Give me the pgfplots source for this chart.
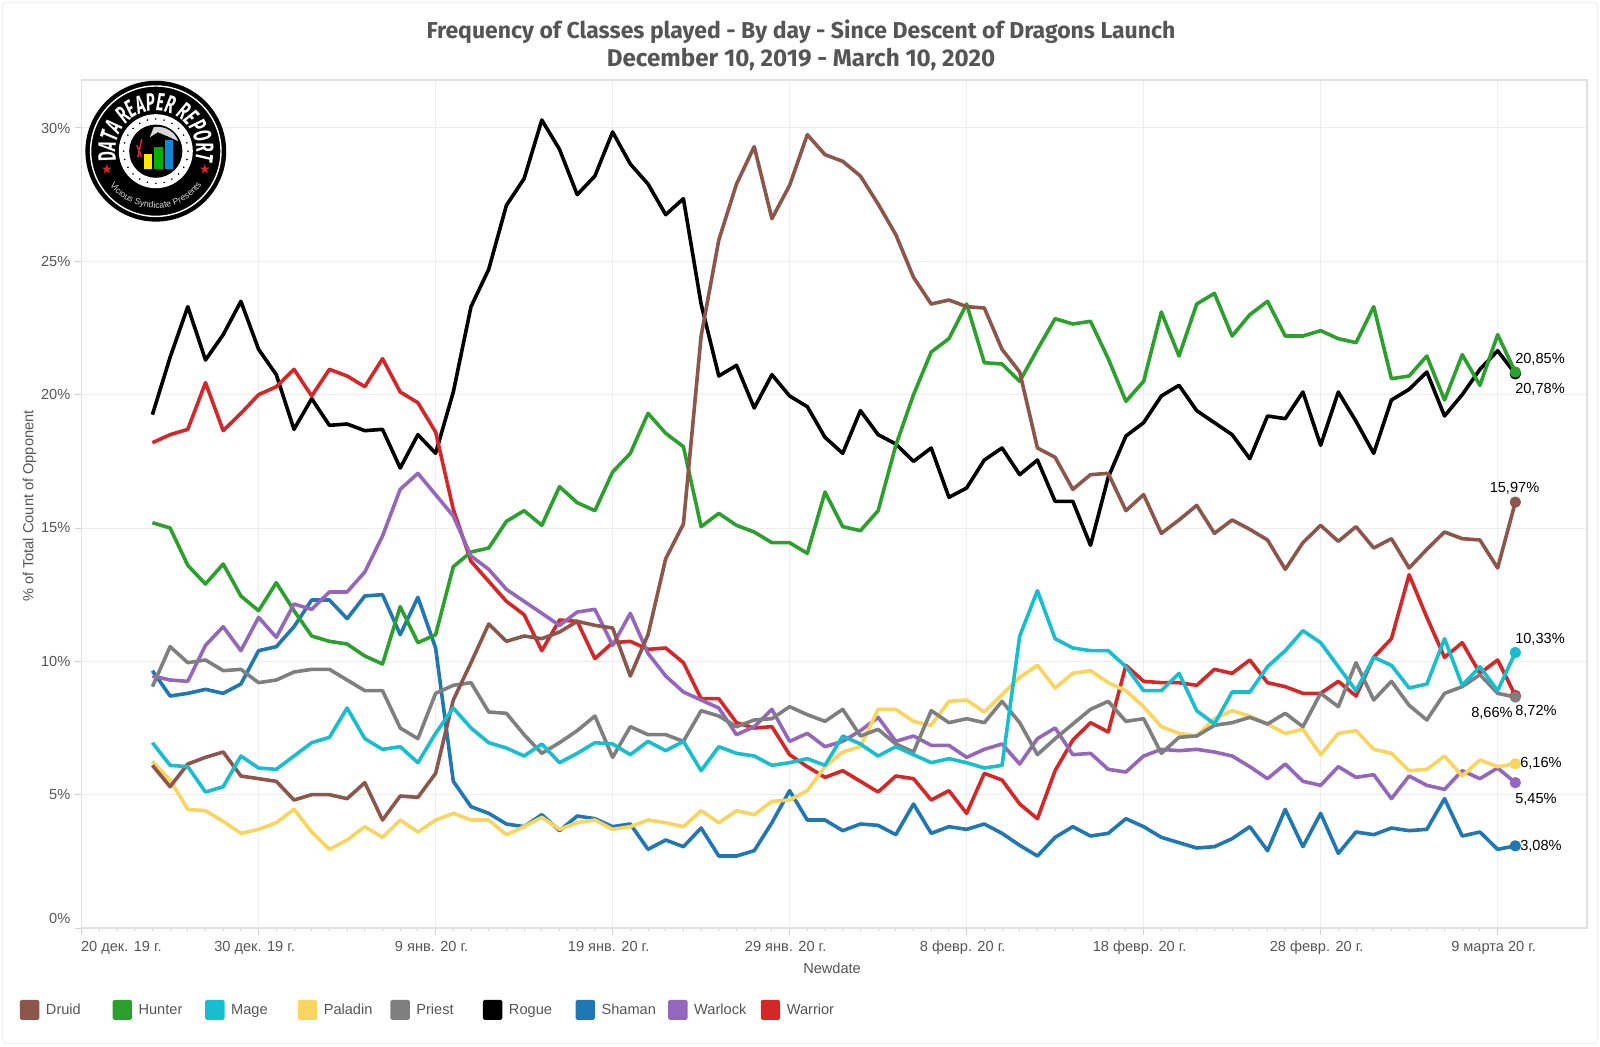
\documentclass[border=0pt]{standalone}
\usepackage{fontspec}
\setmainfont{Liberation Sans}
\newfontfamily\titlefont{Fira Sans}
\newfontfamily\logofont[FakeStretch=0.6]{Fira Sans}
\usepackage{pgfplots}
\pgfplotsset{compat=1.18}
\usetikzlibrary{decorations.text,shapes.geometric}

\definecolor{cDruid}{HTML}{8C564B}
\definecolor{cHunter}{HTML}{2CA02C}
\definecolor{cMage}{HTML}{17BECF}
\definecolor{cPaladin}{HTML}{F9D55F}
\definecolor{cPriest}{HTML}{7F7F7F}
\definecolor{cRogue}{HTML}{000000}
\definecolor{cShaman}{HTML}{1F77B4}
\definecolor{cWarlock}{HTML}{9467BD}
\definecolor{cWarrior}{HTML}{D62728}
\definecolor{txt}{HTML}{555555}

\newcommand{\lab}[1]{\raisebox{-0.4pt}{\makebox[33.3pt][l]{#1}}}

\begin{document}
\begin{tikzpicture}
\fontsize{7.3pt}{9pt}\selectfont

\draw[color=black!6,line width=0.5pt,rounded corners=2pt] (1.2pt,1.2pt) rectangle (798.8pt,521.8pt);

\node[text=txt,font=\titlefont\bfseries\fontsize{11.5pt}{13pt}\selectfont] at (400.5pt,507.2pt)
  {Frequency of Classes played - By day - Since Descent of Dragons Launch};
\node[text=txt,font=\titlefont\bfseries\fontsize{12.1pt}{13pt}\selectfont] at (400.5pt,493.5pt)
  {December 10, 2019 - March 10, 2020};

\begin{axis}[
  at={(40.8pt,59pt)}, anchor=south west,
  scale only axis, width=752.7pt, height=424pt,
  xmin=0, xmax=85.05, ymin=0, ymax=31.8,
  xtick={0,10,...,80},
  xticklabels={\phantom{20 дек. 19 г.}\hspace*{3.4pt}20 дек. 19 г.,30 дек. 19 г.,9 янв. 20 г.,19 янв. 20 г.,29 янв. 20 г.,8 февр. 20 г.,18 февр. 20 г.,28 февр. 20 г.,9 марта 20 г.},
  minor x tick num=9,
  ytick={0,5,...,30},
  yticklabels={\raisebox{9.5pt}{0\%},5\%,10\%,15\%,20\%,25\%,30\%},
  tick align=outside, tick pos=left,
  major tick length=3.5pt, minor tick length=1.5pt,
  tick style={color=black!18,line width=0.5pt},
  grid=major, grid style={color=black!7,line width=0.5pt},
  axis line style={color=black!12,line width=0.7pt},
  x tick label style={text=txt,xshift=-2pt,yshift=-0.5pt},
  y tick label style={text=txt,xshift=0.5pt},
  xlabel={Newdate}, ylabel={\% of Total Count of Opponent},
  every axis x label/.style={at={(axis description cs:0.4985,-0.047)},anchor=center,text=txt},
  every axis y label/.style={at={(axis description cs:-0.0345,0.4975)},rotate=90,anchor=center,text=txt},
  legend columns=9,
  legend style={at={(axis description cs:-0.0412,-0.0965)},anchor=west,draw=none,fill=none,inner sep=0pt,
    text=txt,cells={anchor=west},nodes={inner sep=0pt},
    /tikz/every odd column/.style={column sep=3.3pt}},
  legend image code/.code={\fill[#1,draw=none,rounded corners=0.8pt] (0pt,-5pt) rectangle (9.7pt,5pt);},
  every axis plot/.append style={line width=1.8pt,line join=round,mark=*,mark indices={78},mark size=1.9pt,mark options={solid}},
]
\addlegendimage{color=cDruid}\addlegendentry{\lab{Druid}}
\addlegendimage{color=cHunter}\addlegendentry{\lab{Hunter}}
\addlegendimage{color=cMage}\addlegendentry{\lab{Mage}}
\addlegendimage{color=cPaladin}\addlegendentry{\lab{Paladin}}
\addlegendimage{color=cPriest}\addlegendentry{\lab{Priest}}
\addlegendimage{color=cRogue}\addlegendentry{\lab{Rogue}}
\addlegendimage{color=cShaman}\addlegendentry{\lab{Shaman}}
\addlegendimage{color=cWarlock}\addlegendentry{\lab{Warlock}}
\addlegendimage{color=cWarrior}\addlegendentry{\lab{Warrior}}

% Shaman
\addplot[forget plot,color=cShaman] coordinates {
(4,9.65)(5,8.7)(6,8.8)(7,8.95)(8,8.8)(9,9.15)(10,10.4)(11,10.55)(12,11.3)(13,12.3)
(14,12.3)(15,11.6)(16,12.45)(17,12.5)(18,11.0)(19,12.4)(20,10.5)(21,5.5)(22,4.55)(23,4.3)
(24,3.9)(25,3.8)(26,4.25)(27,3.65)(28,4.2)(29,4.1)(30,3.8)(31,3.9)(32,2.95)(33,3.3)
(34,3.05)(35,3.75)(36,2.7)(37,2.7)(38,2.9)(39,3.95)(40,5.15)(41,4.05)(42,4.05)(43,3.65)
(44,3.9)(45,3.85)(46,3.5)(47,4.65)(48,3.55)(49,3.8)(50,3.7)(51,3.9)(52,3.55)(53,3.1)
(54,2.7)(55,3.4)(56,3.8)(57,3.45)(58,3.55)(59,4.1)(60,3.8)(61,3.4)(62,3.2)(63,3.0)
(64,3.05)(65,3.35)(66,3.8)(67,2.9)(68,4.45)(69,3.05)(70,4.3)(71,2.8)(72,3.6)(73,3.5)
(74,3.75)(75,3.65)(76,3.7)(77,4.85)(78,3.45)(79,3.6)(80,2.95)(81,3.08)};
% Rogue
\addplot[forget plot,color=cRogue] coordinates {
(4,19.25)(5,21.4)(6,23.3)(7,21.3)(8,22.25)(9,23.5)(10,21.7)(11,20.75)(12,18.7)(13,19.85)
(14,18.85)(15,18.9)(16,18.65)(17,18.7)(18,17.25)(19,18.5)(20,17.8)(21,20.1)(22,23.3)(23,24.7)
(24,27.1)(25,28.1)(26,30.3)(27,29.2)(28,27.5)(29,28.2)(30,29.85)(31,28.65)(32,27.9)(33,26.75)
(34,27.35)(35,23.4)(36,20.7)(37,21.1)(38,19.5)(39,20.75)(40,19.95)(41,19.55)(42,18.4)(43,17.8)
(44,19.4)(45,18.5)(46,18.15)(47,17.5)(48,18.0)(49,16.15)(50,16.5)(51,17.55)(52,18.0)(53,17.0)
(54,17.55)(55,16.0)(56,16.0)(57,14.35)(58,16.9)(59,18.45)(60,18.95)(61,19.95)(62,20.35)(63,19.4)
(64,18.95)(65,18.5)(66,17.6)(67,19.2)(68,19.1)(69,20.1)(70,18.1)(71,20.1)(72,19.0)(73,17.8)
(74,19.8)(75,20.2)(76,20.85)(77,19.2)(78,20.0)(79,20.95)(80,21.65)(81,20.78)};
% Warrior
\addplot[forget plot,color=cWarrior] coordinates {
(4,18.2)(5,18.5)(6,18.7)(7,20.45)(8,18.65)(9,19.3)(10,20.0)(11,20.3)(12,20.95)(13,19.95)
(14,20.95)(15,20.7)(16,20.3)(17,21.35)(18,20.1)(19,19.7)(20,18.6)(21,15.7)(22,13.75)(23,13.0)
(24,12.25)(25,11.75)(26,10.4)(27,11.55)(28,11.5)(29,10.1)(30,10.7)(31,10.75)(32,10.45)(33,10.5)
(34,9.95)(35,8.6)(36,8.6)(37,7.7)(38,7.5)(39,7.55)(40,6.5)(41,6.05)(42,5.65)(43,5.9)
(44,5.5)(45,5.1)(46,5.7)(47,5.6)(48,4.8)(49,5.15)(50,4.3)(51,5.8)(52,5.55)(53,4.65)
(54,4.1)(55,5.9)(56,7.05)(57,7.7)(58,7.35)(59,9.85)(60,9.25)(61,9.2)(62,9.2)(63,9.1)
(64,9.7)(65,9.55)(66,10.05)(67,9.2)(68,9.05)(69,8.8)(70,8.8)(71,9.25)(72,8.7)(73,10.15)
(74,10.85)(75,13.25)(76,11.65)(77,10.15)(78,10.7)(79,9.55)(80,10.05)(81,8.72)};
% Hunter
\addplot[forget plot,color=cHunter] coordinates {
(4,15.2)(5,15.0)(6,13.6)(7,12.9)(8,13.65)(9,12.45)(10,11.9)(11,12.95)(12,11.9)(13,10.95)
(14,10.75)(15,10.65)(16,10.2)(17,9.9)(18,12.05)(19,10.7)(20,11.0)(21,13.55)(22,14.1)(23,14.25)
(24,15.25)(25,15.65)(26,15.1)(27,16.55)(28,15.95)(29,15.65)(30,17.1)(31,17.8)(32,19.3)(33,18.55)
(34,18.05)(35,15.05)(36,15.55)(37,15.1)(38,14.85)(39,14.45)(40,14.45)(41,14.05)(42,16.35)(43,15.05)
(44,14.9)(45,15.65)(46,18.1)(47,20.0)(48,21.6)(49,22.1)(50,23.4)(51,21.2)(52,21.15)(53,20.5)
(54,21.7)(55,22.85)(56,22.65)(57,22.75)(58,21.35)(59,19.75)(60,20.5)(61,23.1)(62,21.45)(63,23.4)
(64,23.8)(65,22.2)(66,23.0)(67,23.5)(68,22.2)(69,22.2)(70,22.4)(71,22.1)(72,21.95)(73,23.3)
(74,20.6)(75,20.7)(76,21.45)(77,19.8)(78,21.5)(79,20.35)(80,22.25)(81,20.85)};
% Warlock
\addplot[forget plot,color=cWarlock] coordinates {
(4,9.45)(5,9.3)(6,9.25)(7,10.6)(8,11.3)(9,10.4)(10,11.65)(11,10.9)(12,12.15)(13,11.95)
(14,12.6)(15,12.6)(16,13.35)(17,14.7)(18,16.45)(19,17.05)(20,16.25)(21,15.45)(22,13.95)(23,13.45)
(24,12.7)(25,12.25)(26,11.8)(27,11.35)(28,11.85)(29,11.95)(30,10.6)(31,11.8)(32,10.3)(33,9.45)
(34,8.85)(35,8.55)(36,8.25)(37,7.25)(38,7.55)(39,8.2)(40,7.0)(41,7.3)(42,6.8)(43,7.0)
(44,7.4)(45,7.9)(46,7.0)(47,7.2)(48,6.85)(49,6.85)(50,6.4)(51,6.7)(52,6.9)(53,6.15)
(54,7.1)(55,7.5)(56,6.5)(57,6.55)(58,5.95)(59,5.85)(60,6.45)(61,6.7)(62,6.65)(63,6.7)
(64,6.6)(65,6.45)(66,6.05)(67,5.6)(68,6.15)(69,5.5)(70,5.35)(71,6.05)(72,5.65)(73,5.75)
(74,4.85)(75,5.7)(76,5.35)(77,5.2)(78,5.9)(79,5.6)(80,6.0)(81,5.45)};
% Paladin
\addplot[forget plot,color=cPaladin] coordinates {
(4,6.25)(5,5.55)(6,4.45)(7,4.4)(8,4.0)(9,3.55)(10,3.7)(11,3.95)(12,4.45)(13,3.6)
(14,2.95)(15,3.3)(16,3.8)(17,3.4)(18,4.05)(19,3.6)(20,4.05)(21,4.3)(22,4.05)(23,4.05)
(24,3.5)(25,3.8)(26,4.15)(27,3.7)(28,3.95)(29,4.05)(30,3.7)(31,3.8)(32,4.05)(33,3.95)
(34,3.8)(35,4.4)(36,3.95)(37,4.4)(38,4.25)(39,4.75)(40,4.8)(41,5.15)(42,6.05)(43,6.6)
(44,6.8)(45,8.2)(46,8.2)(47,7.75)(48,7.6)(49,8.5)(50,8.55)(51,8.1)(52,8.75)(53,9.4)
(54,9.85)(55,9.0)(56,9.55)(57,9.65)(58,9.2)(59,8.9)(60,8.3)(61,7.55)(62,7.3)(63,7.2)
(64,7.85)(65,8.15)(66,7.95)(67,7.65)(68,7.3)(69,7.45)(70,6.5)(71,7.3)(72,7.4)(73,6.7)
(74,6.55)(75,5.9)(76,5.95)(77,6.45)(78,5.7)(79,6.3)(80,6.05)(81,6.16)};
% Priest
\addplot[forget plot,color=cPriest] coordinates {
(4,9.05)(5,10.55)(6,9.95)(7,10.05)(8,9.65)(9,9.7)(10,9.2)(11,9.3)(12,9.6)(13,9.7)
(14,9.7)(15,9.3)(16,8.9)(17,8.9)(18,7.5)(19,7.1)(20,8.8)(21,9.1)(22,9.2)(23,8.1)
(24,8.05)(25,7.25)(26,6.55)(27,6.95)(28,7.4)(29,7.95)(30,6.4)(31,7.55)(32,7.25)(33,7.25)
(34,7.0)(35,8.15)(36,7.95)(37,7.55)(38,7.8)(39,7.85)(40,8.3)(41,8.0)(42,7.75)(43,8.2)
(44,7.2)(45,7.45)(46,6.9)(47,6.6)(48,8.15)(49,7.7)(50,7.85)(51,7.7)(52,8.5)(53,7.7)
(54,6.5)(55,7.1)(56,7.65)(57,8.2)(58,8.5)(59,7.75)(60,7.85)(61,6.55)(62,7.15)(63,7.2)
(64,7.6)(65,7.7)(66,7.9)(67,7.65)(68,8.05)(69,7.55)(70,8.8)(71,8.3)(72,9.95)(73,8.55)
(74,9.25)(75,8.35)(76,7.8)(77,8.8)(78,9.05)(79,9.5)(80,8.8)(81,8.66)};
% Druid
\addplot[forget plot,color=cDruid] coordinates {
(4,6.1)(5,5.3)(6,6.15)(7,6.4)(8,6.6)(9,5.7)(10,5.6)(11,5.5)(12,4.8)(13,5.0)
(14,5.0)(15,4.85)(16,5.45)(17,4.05)(18,4.95)(19,4.9)(20,5.8)(21,8.55)(22,9.95)(23,11.4)
(24,10.75)(25,10.95)(26,10.85)(27,11.1)(28,11.5)(29,11.35)(30,11.25)(31,9.45)(32,11.0)(33,13.85)
(34,15.15)(35,22.2)(36,25.8)(37,27.9)(38,29.3)(39,26.6)(40,27.85)(41,29.75)(42,29.0)(43,28.75)
(44,28.2)(45,27.15)(46,26.0)(47,24.4)(48,23.4)(49,23.55)(50,23.3)(51,23.25)(52,21.7)(53,20.85)
(54,18.0)(55,17.65)(56,16.45)(57,17.0)(58,17.05)(59,15.65)(60,16.25)(61,14.8)(62,15.3)(63,15.85)
(64,14.8)(65,15.3)(66,14.95)(67,14.55)(68,13.45)(69,14.45)(70,15.1)(71,14.5)(72,15.05)(73,14.25)
(74,14.6)(75,13.5)(76,14.2)(77,14.85)(78,14.6)(79,14.55)(80,13.5)(81,15.97)};
% Mage
\addplot[forget plot,color=cMage] coordinates {
(4,6.95)(5,6.1)(6,6.05)(7,5.1)(8,5.3)(9,6.45)(10,6.0)(11,5.95)(12,6.45)(13,6.95)
(14,7.15)(15,8.25)(16,7.1)(17,6.7)(18,6.8)(19,6.2)(20,7.3)(21,8.25)(22,7.5)(23,6.95)
(24,6.75)(25,6.45)(26,6.9)(27,6.2)(28,6.55)(29,6.95)(30,6.9)(31,6.5)(32,7.0)(33,6.65)
(34,7.0)(35,5.9)(36,6.8)(37,6.55)(38,6.45)(39,6.1)(40,6.2)(41,6.35)(42,6.1)(43,7.2)
(44,6.9)(45,6.45)(46,6.8)(47,6.5)(48,6.2)(49,6.35)(50,6.2)(51,6.0)(52,6.1)(53,10.95)
(54,12.65)(55,10.85)(56,10.5)(57,10.4)(58,10.4)(59,9.8)(60,8.9)(61,8.9)(62,9.55)(63,8.15)
(64,7.65)(65,8.85)(66,8.85)(67,9.8)(68,10.4)(69,11.15)(70,10.7)(71,9.8)(72,8.9)(73,10.15)
(74,9.85)(75,9.0)(76,9.15)(77,10.85)(78,9.1)(79,9.8)(80,8.9)(81,10.33)};
\end{axis}

% end labels
\node at (770pt,343.5pt) {20,85\%};
\node at (770pt,328.5pt) {20,78\%};
\node at (757.25pt,279pt) {15,97\%};
\node at (770pt,203.5pt) {10,33\%};
\node at (746pt,166.5pt) {8,66\%};
\node at (768pt,167.5pt) {8,72\%};
\node at (770.5pt,141.5pt) {6,16\%};
\node at (768pt,123.5pt) {5,45\%};
\node at (770.5pt,100pt) {3,08\%};

% badge
\begin{scope}[shift={(77.9pt,447.4pt)}]
\fill[black] (0,0) circle (35.2pt);
\draw[white,line width=0.7pt] (0,0) circle (32.6pt);
\path[decorate,decoration={text along path,text align=center,
  text={|\logofont\bfseries\itshape\fontsize{12.5pt}{13pt}\selectfont\color{white}|DATA REAPER REPORT}}]
  (205:20.2pt) arc[start angle=205,end angle=-25,radius=20.2pt];
\path[decorate,decoration={text along path,text align=center,
  text={|\fontsize{4.4pt}{5pt}\selectfont\color{white!85!black}|Vicious Syndicate Presents}}]
  (205:28.5pt) arc[start angle=205,end angle=335,radius=28.5pt];
\node[star,star points=5,star point ratio=2.4,fill=cWarrior,inner sep=0pt,minimum size=5pt] at (-24.5pt,-9pt) {};
\node[star,star points=5,star point ratio=2.4,fill=cWarrior,inner sep=0pt,minimum size=5pt] at (24.5pt,-9pt) {};
\fill[white] (0,0) circle (18.5pt);
\foreach \a in {0,15,...,345} \fill[black] (\a:16.1pt) circle (0.45pt);
\fill[black] (0,0) circle (13.3pt);
\fill[white!85!black] (-1pt,12pt) arc[start angle=100,end angle=20,radius=11pt] -- (7pt,7pt) -- (1pt,9.5pt) -- (-3pt,7pt) -- cycle;
\draw[cWarrior,line width=0.8pt] (-9pt,-3pt) -- (-7pt,6pt) (-7pt,-3pt) -- (-9.5pt,3pt);
\fill[yellow!90!orange] (-5.9pt,-8.7pt) rectangle (-1.8pt,-1.2pt);
\fill[green!70!black] (-0.7pt,-8.7pt) rectangle (3.5pt,2pt);
\fill[cyan!70!blue] (4.5pt,-8.7pt) rectangle (8.7pt,5.5pt);
\end{scope}

\pgfresetboundingbox
\path[use as bounding box] (0pt,0pt) rectangle (800pt,523pt);
\end{tikzpicture}
\end{document}
